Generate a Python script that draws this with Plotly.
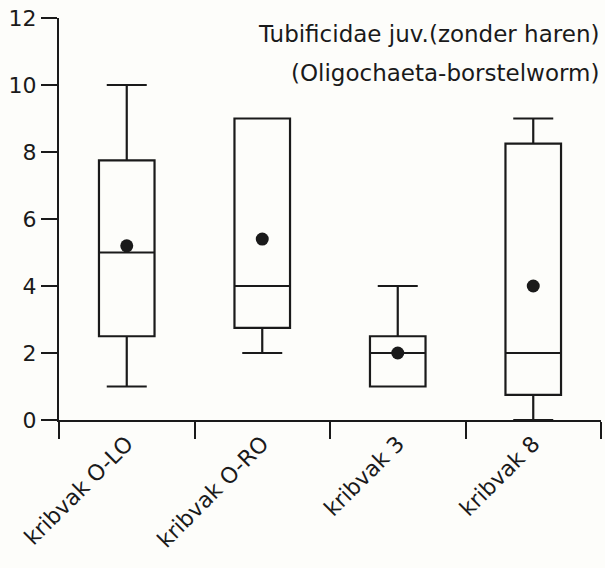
import plotly.graph_objects as go

categories = ["kribvak O-LO", "kribvak O-RO", "kribvak 3", "kribvak 8"]
lower = [1, 2, 1, 0]
q1 = [2.5, 2.75, 1, 0.75]
median = [5, 4, 2, 2]
q3 = [7.75, 9, 2.5, 8.25]
upper = [10, 9, 4, 9]
means = [5.2, 5.4, 2, 4]

title_lines = ["Tubificidae juv.(zonder haren)", "(Oligochaeta-borstelworm)"]
yticks = [0, 2, 4, 6, 8, 10, 12]

ink = "#1a1a1a"
bg = "#fdfdfa"
font = "DejaVu Sans"

fig = go.Figure()
fig.add_trace(go.Box(
    x=categories, q1=q1, median=median, q3=q3,
    lowerfence=lower, upperfence=upper,
    fillcolor="rgba(0,0,0,0)", line=dict(color=ink, width=2.2),
    width=0.41, whiskerwidth=0.72, boxpoints=False, showlegend=False,
))
fig.add_trace(go.Scatter(
    x=categories, y=means, mode="markers",
    marker=dict(color=ink, size=13), showlegend=False,
))

for i, t in enumerate(title_lines):
    fig.add_annotation(
        text=t, xref="paper", yref="paper", x=1.0, xanchor="right",
        y=[0.96, 0.862][i], yanchor="middle", showarrow=False,
        font=dict(family=font, size=23, color=ink),
    )

fig.update_layout(
    width=605, height=568,
    margin=dict(l=59, r=4, t=18, b=148),
    paper_bgcolor=bg, plot_bgcolor=bg,
    font=dict(family=font, color=ink),
)
fig.update_xaxes(
    type="category", categoryorder="array", categoryarray=categories,
    range=[-0.5, 3.5], tickson="boundaries",
    showline=True, linecolor=ink, linewidth=2.2,
    ticks="outside", ticklen=17, tickwidth=2, tickcolor=ink,
    tickangle=-45, tickfont=dict(family=font, size=22, color=ink),
    showgrid=False, zeroline=False,
)
fig.update_yaxes(
    range=[0, 12], tickvals=yticks,
    showline=True, linecolor=ink, linewidth=2.2,
    ticks="outside", ticklen=16, tickwidth=2, tickcolor=ink,
    tickfont=dict(family=font, size=22, color=ink),
    showgrid=False, zeroline=False,
)

fig.write_html("out.html")
